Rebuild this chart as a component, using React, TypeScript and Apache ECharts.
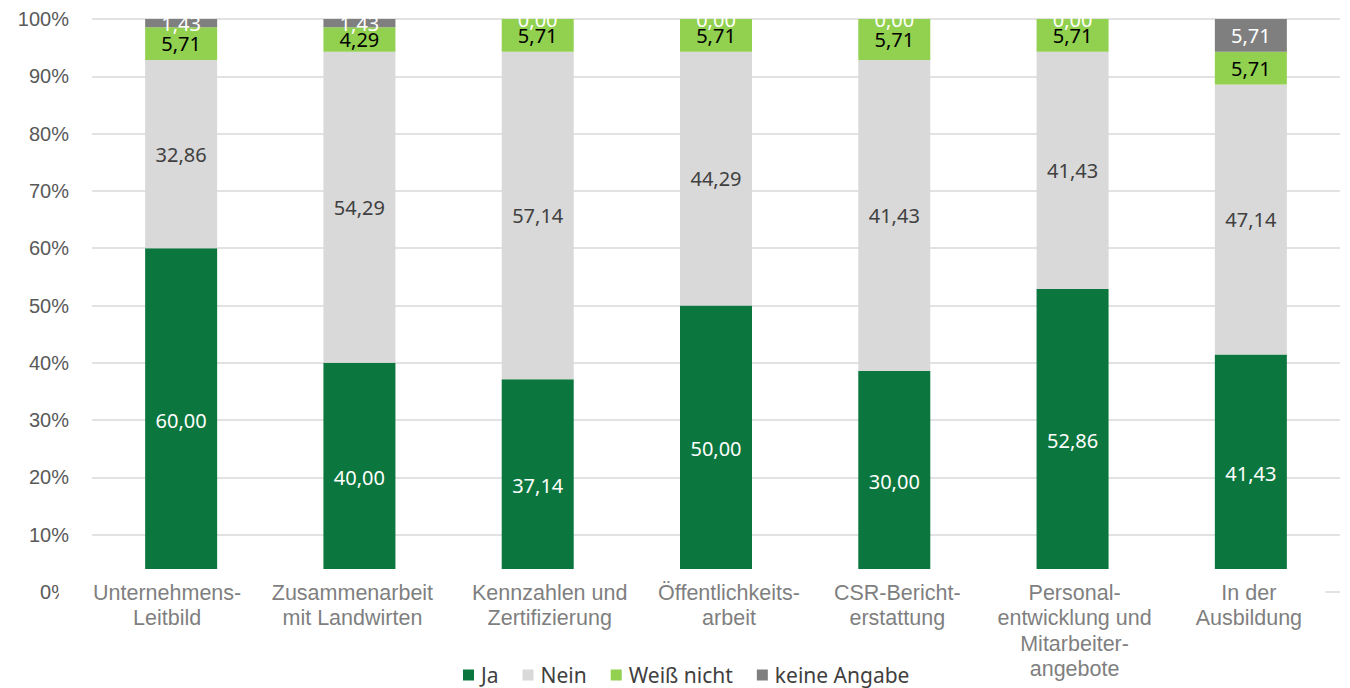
import React, { useEffect, useRef } from "react";
import * as echarts from "echarts";

const categories = [
  "Unternehmens-\nLeitbild",
  "Zusammenarbeit\nmit Landwirten",
  "Kennzahlen und\nZertifizierung",
  "Öffentlichkeits-\narbeit",
  "CSR-Bericht-\nerstattung",
  "Personal-\nentwicklung und\nMitarbeiter-\nangebote",
  "In der\nAusbildung",
];

const seriesNames = ["Ja", "Nein", "Weiß nicht", "keine Angabe"];

// bar heights as drawn
const ja = [60, 40, 37.14, 50, 38.57, 52.86, 41.43];
const nein = [32.86, 54.29, 57.14, 44.29, 54.29, 41.43, 47.14];
const weissNicht = [5.71, 4.29, 5.71, 5.71, 7.14, 5.71, 5.71];
const keineAngabe = [1.43, 1.43, 0, 0, 0, 0, 5.71];

// data labels as printed on the chart
const jaLabels = ["60,00", "40,00", "37,14", "50,00", "30,00", "52,86", "41,43"];
const neinLabels = ["32,86", "54,29", "57,14", "44,29", "41,43", "41,43", "47,14"];
const weissNichtLabels = ["5,71", "4,29", "5,71", "5,71", "5,71", "5,71", "5,71"];
const keineAngabeLabels = ["1,43", "1,43", "0,00", "0,00", "0,00", "0,00", "5,71"];

const yTicks = [0, 10, 20, 30, 40, 50, 60, 70, 80, 90, 100];

// horizontal nudge of each category label (style only)
const labelShift = [-14, -7, 12, 13, 3, 2, -2];

const colors = ["#0b763d", "#d9d9d9", "#92d050", "#7f7f7f"];
const labelColors = ["#ffffff", "#404040", "#000000", "#ffffff"];

export default function App() {
  const ref = useRef<HTMLDivElement>(null);

  useEffect(() => {
    if (!ref.current) return;
    const chart = echarts.init(ref.current, undefined, { renderer: "svg" });
    const values = [ja, nein, weissNicht, keineAngabe];
    const labels = [jaLabels, neinLabels, weissNichtLabels, keineAngabeLabels];

    chart.setOption({
      animation: false,
      backgroundColor: "#ffffff",
      grid: { left: 92, right: 10, top: 19, bottom: 96, containLabel: false },
      legend: {
        data: seriesNames,
        left: 458,
        top: 659,
        z: 10,
        icon: "rect",
        itemWidth: 11,
        itemHeight: 11,
        itemGap: 24,
        textStyle: {
          fontFamily: "Noto Sans",
          fontSize: 21,
          lineHeight: 22,
          color: "#404040",
          padding: [0, 0, 0, 2],
        },
      },
      xAxis: {
        type: "category",
        z: 10,
        data: categories.map((c, i) => ({
          value: c,
          textStyle: {
            padding: labelShift[i] >= 0 ? [0, 0, 0, labelShift[i] * 2] : [0, -labelShift[i] * 2, 0, 0],
          },
        })),
        axisLine: { show: false },
        axisTick: { show: false },
        axisLabel: {
          interval: 0,
          margin: -12,
          fontFamily: "Liberation Sans",
          fontSize: 21.5,
          lineHeight: 25.5,
          color: "#7f7f7f",
        },
      },
      yAxis: {
        type: "value",
        min: yTicks[0],
        max: yTicks[yTicks.length - 1],
        interval: 10,
        axisLine: { show: false },
        axisTick: { show: false },
        axisLabel: {
          margin: 23,
          fontFamily: "Liberation Sans",
          fontSize: 20,
          color: "#595959",
          formatter: (v: number) => `${v}%`,
        },
        splitLine: { lineStyle: { color: "#d9d9d9", width: 1.5 } },
      },
      graphic: [
        {
          type: "rect",
          z: 3,
          shape: { x: 59, y: 569, width: 1266, height: 119 },
          style: { fill: "#ffffff" },
        },
      ],
      series: seriesNames.map((name, si) => ({
        name,
        type: "bar",
        stack: "total",
        barWidth: 72,
        data: values[si],
        itemStyle: { color: colors[si] },
        label: {
          show: true,
          position: "inside",
          fontFamily: "Noto Sans",
          fontSize: 20,
          color: labelColors[si],
          formatter: (p: any) => labels[si][p.dataIndex],
        },
      })),
    });

    return () => chart.dispose();
  }, []);

  return (
    <div
      ref={ref}
      style={{ position: "fixed", left: 0, top: 0, width: 1350, height: 688 }}
    />
  );
}
